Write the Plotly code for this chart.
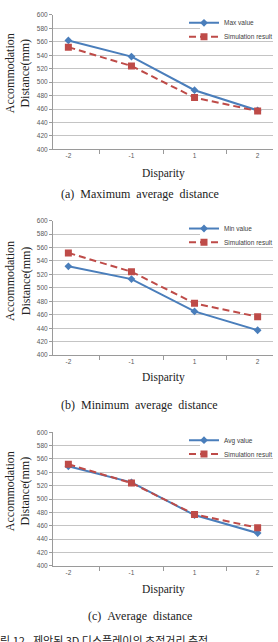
import plotly.graph_objects as go

W, H = 278, 642

disparity = ["-2", "-1", "1", "2"]
max_value = [562, 538, 488, 458]
min_value = [532, 513, 465, 437]
avg_value = [549, 525, 476, 449]
simulation = [552, 524, 477, 457]

series_names = ["Max value", "Min value", "Avg value"]
series_values = [max_value, min_value, avg_value]
captions = ["(a)\u00a0\u00a0Maximum\u00a0\u00a0average\u00a0\u00a0distance",
            "(b)\u00a0\u00a0Minimum\u00a0\u00a0average\u00a0\u00a0distance",
            "(c)\u00a0\u00a0Average\u00a0\u00a0distance"]
y_title = "Accommodation<br>Distance(mm)"
x_title = "Disparity"
footer = "그림 12.\u00a0\u00a0제안된 3D 디스플레이의 초점거리 측정"

BLUE = "#4a7ebb"
RED = "#be4b48"
GRID = "#c4c4c4"
AXIS = "#9a9a9a"
TICKC = "#595959"

def px(x):
    return x / W

def py(y):
    return 1 - y / H

# pixel layout of the three panels (top, bottom)
panels = [(11, 147), (219, 355), (433, 568)]
xl, xr = 53, 273
disp_off = [24, 23, 24]
cap_off = [45, 50, 51]
title_off = [-9, -7, -8]

fig = go.Figure()
layout = dict(width=W, height=H, margin=dict(l=0, r=0, t=0, b=0),
              paper_bgcolor="white", plot_bgcolor="white", showlegend=True)
annotations = []
shapes = []

for i, (top, bot) in enumerate(panels):
    n = "" if i == 0 else str(i + 1)
    xa, ya = "x" + n, "y" + n
    lg = "legend" if i == 0 else "legend" + str(2 * i + 1)
    lg2 = "legend" + str(2 * i + 2)
    fig.add_trace(go.Scatter(
        x=disparity, y=series_values[i], name=series_names[i], xaxis=xa, yaxis=ya,
        mode="lines+markers", line=dict(color=BLUE, width=2),
        marker=dict(symbol="diamond", size=6, color=BLUE), legend=lg))
    fig.add_trace(go.Scatter(
        x=disparity, y=simulation, name="Simulation result", xaxis=xa, yaxis=ya,
        mode="lines+markers", line=dict(color=RED, width=2, dash="7px,4px"),
        marker=dict(symbol="square", size=7, color=RED), legend=lg2))

    layout["xaxis" + n] = dict(
        domain=[px(xl), px(xr)], anchor=ya, type="category",
        tickson="boundaries", ticks="outside", ticklen=4, tickcolor=AXIS,
        showline=True, linecolor=AXIS, linewidth=1, showgrid=False,
        tickfont=dict(family="Liberation Sans", size=6.5, color=TICKC),
        fixedrange=True)
    layout["yaxis" + n] = dict(
        domain=[py(bot), py(top)], anchor=xa, range=[400, 600], dtick=20,
        showgrid=True, gridcolor=GRID, gridwidth=1,
        ticks="outside", ticklen=3, tickcolor=AXIS,
        showline=True, linecolor=AXIS, linewidth=1, zeroline=False,
        tickfont=dict(family="Liberation Sans", size=6.5, color=TICKC),
        fixedrange=True)

    lfont = dict(family="Liberation Sans", size=6.5, color="#404040")
    layout[lg] = dict(x=px(184), xanchor="left", y=py(top + 8), yanchor="middle",
                      bgcolor="rgba(0,0,0,0)", font=lfont)
    layout[lg2] = dict(x=px(184), xanchor="left", y=py(top + 22), yanchor="middle",
                       bgcolor="rgba(0,0,0,0)", font=lfont)

    # white patch behind the legend (no data lies there)
    shapes.append(dict(type="rect", xref="paper", yref="paper",
                       x0=px(200), x1=px(xr),
                       y0=py(top + 24), y1=py(top + 3),
                       fillcolor="white", line=dict(width=0), layer="above"))

    mid = (top + bot) / 2
    annotations.append(dict(text=y_title, textangle=-90, xref="paper", yref="paper",
                            x=px(18), y=py(mid + title_off[i]), xanchor="center", yanchor="middle",
                            showarrow=False,
                            font=dict(family="Liberation Serif", size=12, color="#222222")))
    annotations.append(dict(text=x_title, xref="paper", yref="paper",
                            x=px(163), y=py(bot + disp_off[i]), xanchor="center", yanchor="middle",
                            showarrow=False,
                            font=dict(family="Liberation Serif", size=11.5, color="#222222")))
    annotations.append(dict(text=captions[i], xref="paper", yref="paper",
                            x=px(139.5), y=py(bot + cap_off[i]), xanchor="center", yanchor="middle",
                            showarrow=False,
                            font=dict(family="Liberation Serif", size=12, color="#222222")))

annotations.append(dict(text=footer, xref="paper", yref="paper",
                        x=px(-12), y=py(643), xanchor="left", yanchor="middle",
                        showarrow=False,
                        font=dict(family="Noto Sans CJK KR", size=11, color="#222222")))

layout["annotations"] = annotations
layout["shapes"] = shapes
fig.update_layout(**layout)
fig.write_html("out.html")
